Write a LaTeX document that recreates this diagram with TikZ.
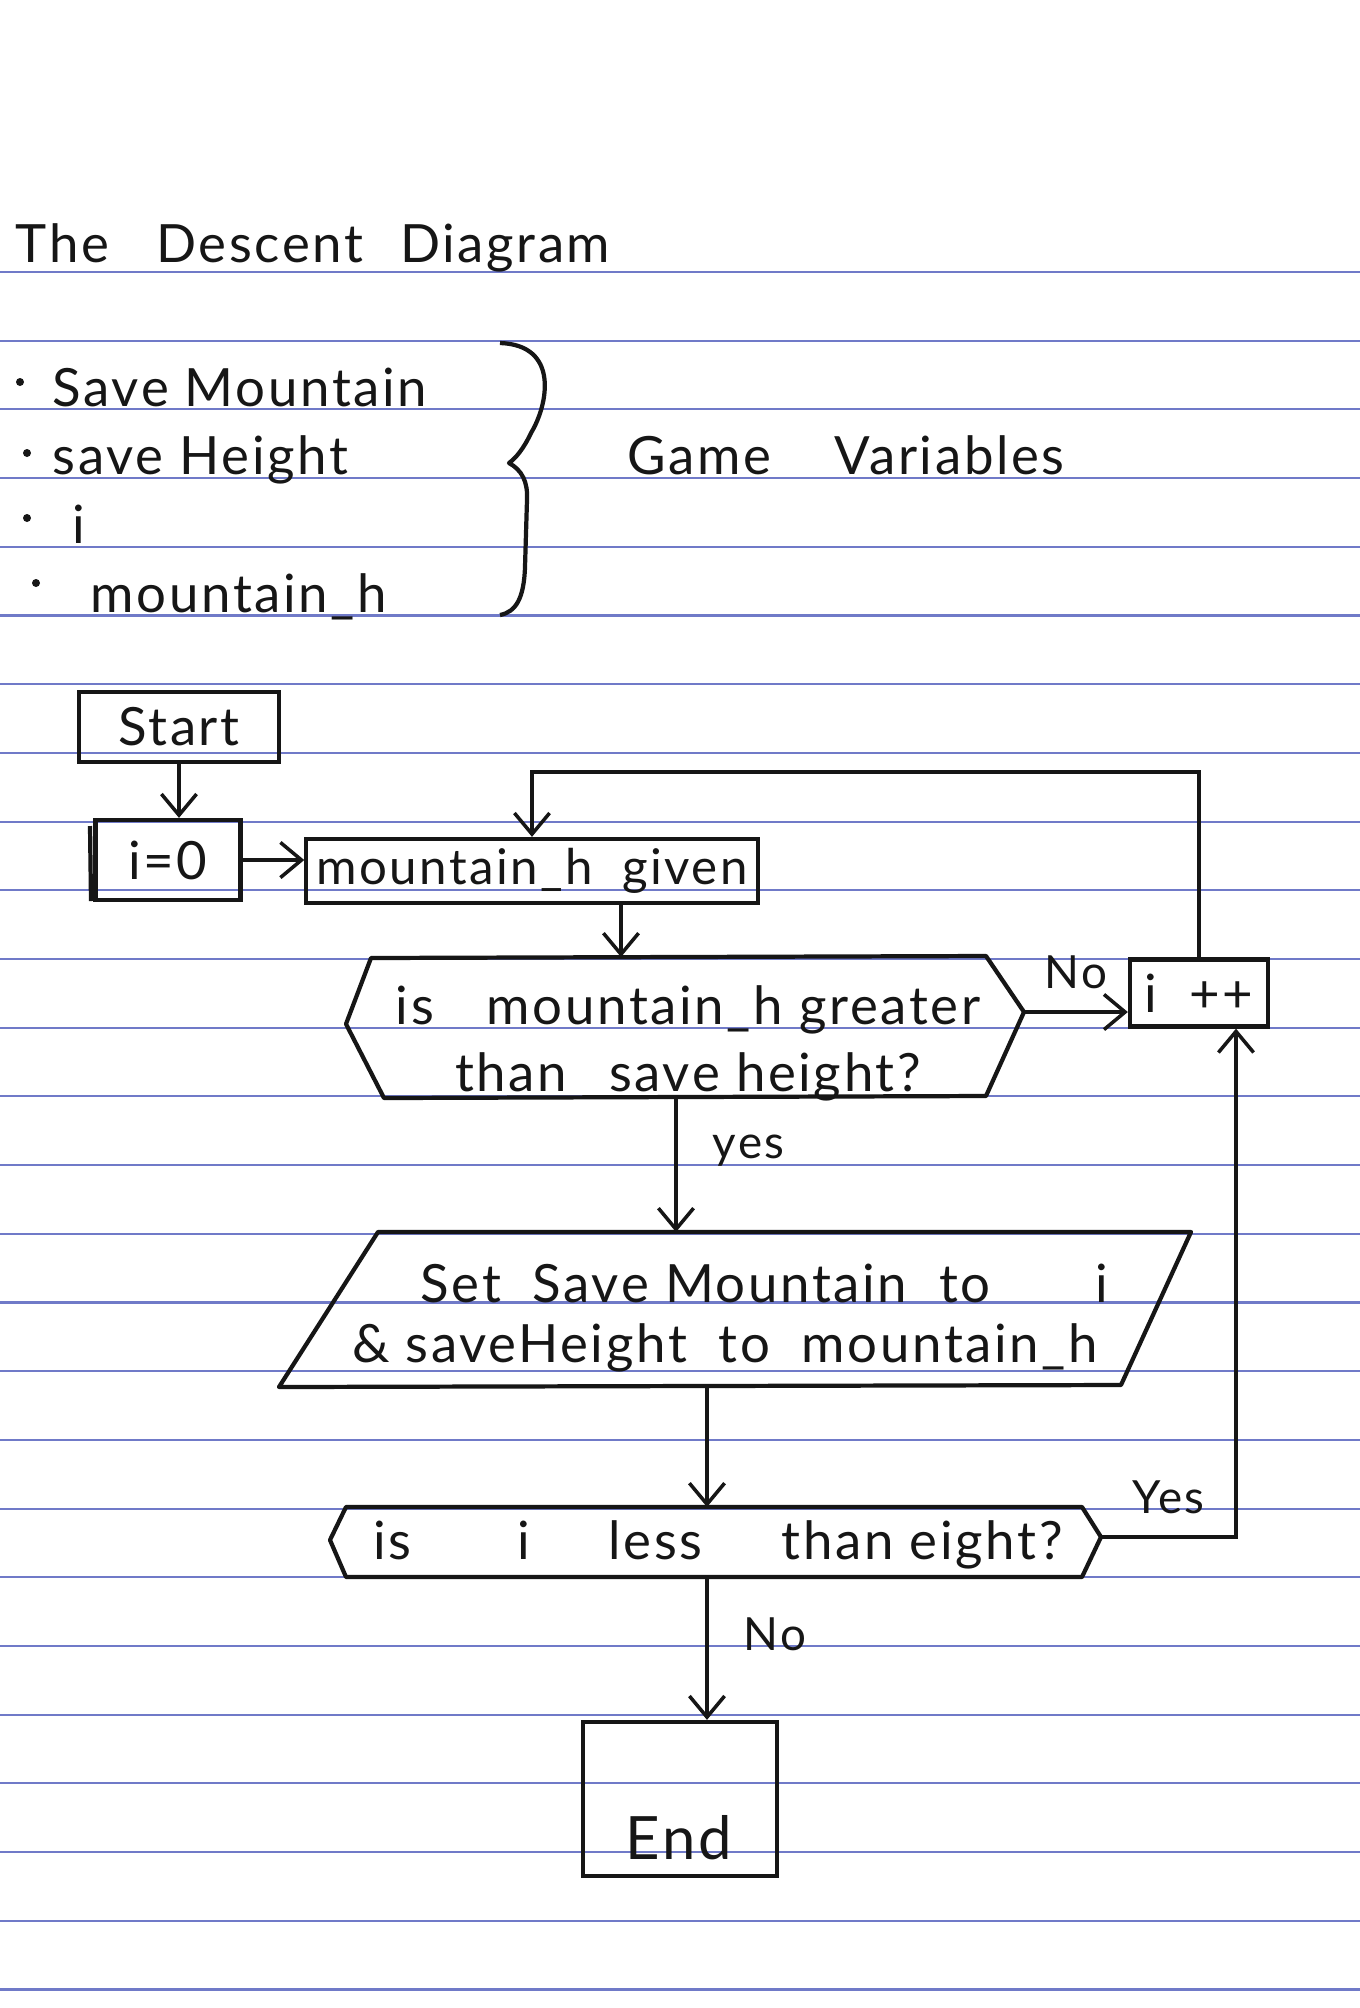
\documentclass[tikz,border=0pt]{standalone}
\usepackage{fontspec}
\setmainfont{Lato}[LetterSpace=5]
\usetikzlibrary{arrows.meta}
\definecolor{ink}{RGB}{22,22,22}
\definecolor{rulecol}{RGB}{112,122,200}
\begin{document}
\begin{tikzpicture}[x=0.01cm,y=-0.01cm,
  txt/.style={font=\fontsize{15}{19}\selectfont, inner sep=0pt, text=ink},
  lbl/.style={font=\fontsize{13}{15}\selectfont, inner sep=0pt, text=ink},
  box/.style={draw=ink, line width=1.2pt, inner sep=0pt, txt},
  outline/.style={draw=ink, line width=1.2pt, line join=round},
  conn/.style={draw=ink, line width=1pt, -{Straight Barb[length=6pt,width=10pt,line width=1pt]}}]
\useasboundingbox (0,0) rectangle (1360,2008);
\fill[white] (0,0) rectangle (1360,2008);
% notebook rules
\foreach \k in {0,...,25} \draw[rulecol, line width=0.6pt] (0,{272+68.7*\k}) -- (1360,{272+68.7*\k});

% title
\node[txt, anchor=base west] (title) at (15,262) {The\hspace{0.9em}Descent\hspace{0.7em}Diagram};

% variables list
\foreach \bx/\by in {20/382, 27/453, 27/518, 36/583} \fill[ink] (\bx,\by) circle (4);
\node[txt, anchor=base west] (v1) at (52,406) {Save Mountain};
\node[txt, anchor=base west] (v2) at (52,474) {save Height};
\node[txt, anchor=base west] (v3) at (72,543) {i};
\node[txt, anchor=base west] (v4) at (90,612) {mountain\_h};
\draw[outline] (500,343) .. controls (560,345) and (548,405) .. (531,433)
  .. controls (524,448) and (516,458) .. (509,463)
  .. controls (522,470) and (528,482) .. (527,500) -- (525,567)
  .. controls (524,598) and (516,612) .. (500,615);
\node[txt, anchor=base west] (gv) at (627,474) {Game\hspace{1.2em}Variables};

% boxes
\node[box, minimum width=2cm, minimum height=0.7cm] (start) at (179,727) {Start};
\node[box, minimum width=1.45cm, minimum height=0.8cm] (i0) at (168,860) {i=0};
\draw[outline] (90,826) -- (91,901);
\node[box, minimum width=4.51cm, minimum height=0.64cm, font=\fontsize{14}{17}\selectfont] (given) at (532,871) {mountain\_h\hspace{0.6em}given};
\node[box, minimum width=1.38cm, minimum height=0.67cm] (ipp) at (1199,993) {i\hspace{0.6em}++};
\node[box, minimum width=1.94cm, minimum height=1.54cm] (end) at (680,1799) {};
\node[txt, font=\fontsize{17}{20}\selectfont] (endtxt) at (679,1838) {End};

% decision 1
\coordinate (d1l) at (346,1024);
\coordinate (d1r) at (1024,1012);
\coordinate (d1t) at (621,957);
\coordinate (d1b) at (676,1097);
\draw[outline] (d1l) -- (371,958) -- (986,956) -- (d1r) -- (986,1096) -- (384,1098) -- cycle;
\node[txt, align=center] (d1txt) at (688,1043) {is\hspace{1em}mountain\_h greater\\than\hspace{0.8em}save height?};

% parallelogram
\coordinate (pt) at (676,1232);
\coordinate (pb) at (707,1386);
\draw[outline] (378,1232) -- (1191,1232) -- (1121,1385) -- (279,1387) -- cycle;
\node[txt, align=center] (ptxt) at (725,1318) {\hspace{1.5em}Set\hspace{0.6em}Save Mountain\hspace{0.6em}to\hspace{2em}i\\[-2pt]\& saveHeight\hspace{0.6em}to\hspace{0.6em}mountain\_h};

% decision 2
\coordinate (d2t) at (707,1507);
\coordinate (d2b) at (707,1577);
\coordinate (d2r) at (1101,1537);
\draw[outline] (330,1540) -- (346,1507) -- (1082,1507) -- (d2r) -- (1082,1577) -- (346,1577) -- cycle;
\node[txt] (d2txt) at (718,1545) {is\hspace{2em}i\hspace{1.5em}less\hspace{1.5em}than eight?};

% connectors
\draw[conn] (start.south) -- (start.south |- i0.north);
\draw[conn] (i0.east) -- (i0.east -| given.west);
\draw[conn] (given.south -| d1t) -- (d1t);
\draw[conn] (d1r) -- (d1r -| ipp.west) node[lbl, midway, above=6pt] {No};
\coordinate (loopc) at (532,772);
\draw[conn] (ipp.north) |- (loopc) -- (given.north);
\draw[conn] (d1b) -- (pt) node[lbl, pos=0.4, right=10pt] {yes};
\draw[conn] (pb) -- (d2t);
\coordinate (yc) at (1236,1537);
\draw[conn] (d2r) -- (yc) node[lbl, midway, above=6pt] {Yes} -- (yc |- ipp.south);
\draw[conn] (d2b) -- (d2b |- end.north) node[lbl, pos=0.4, right=10pt] {No};
\end{tikzpicture}
\end{document}
